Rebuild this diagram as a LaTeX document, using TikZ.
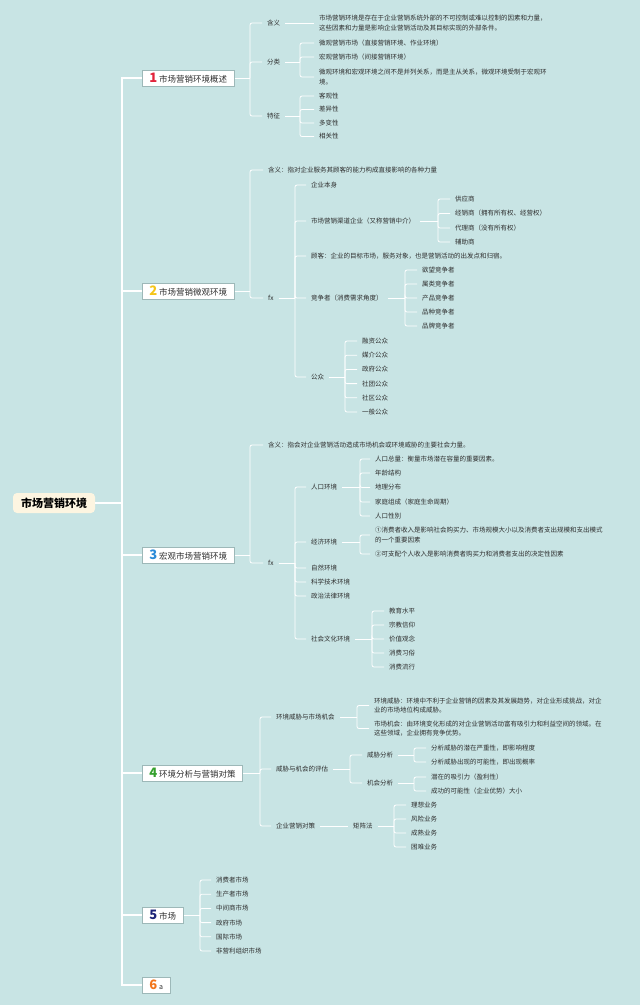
\documentclass[tikz,border=0pt]{standalone}
\usepackage{fontspec}
\setmainfont{Noto Sans CJK SC}
\usepackage{xcolor}
\usepackage{tikz}
\usetikzlibrary{positioning}
\definecolor{bgteal}{HTML}{C8E4E4}
\definecolor{rootcream}{HTML}{FDF5E1}
\definecolor{boxgray}{HTML}{9DB8B8}
\definecolor{textdark}{HTML}{2E2E2E}
\definecolor{numred}{HTML}{E2233B}
\definecolor{numyellow}{HTML}{F5C518}
\definecolor{numblue}{HTML}{2B8BD8}
\definecolor{numgreen}{HTML}{35A02E}
\definecolor{numnavy}{HTML}{1C2478}
\definecolor{numorange}{HTML}{F2761C}
\tikzstyle{topic} = [
    rectangle,
    rounded corners=4pt,
    minimum height=20pt,
    inner xsep=8pt,
    fill=rootcream,
    text=black,
    font=\fontsize{11}{13}\selectfont\bfseries
]
\tikzstyle{chapter} = [
    rectangle,
    anchor=west,
    minimum height=16pt,
    inner xsep=7pt,
    inner ysep=1pt,
    fill=white,
    draw=boxgray,
    line width=0.6pt,
    text=textdark,
    font=\fontsize{8.5}{10}\selectfont
]
\tikzstyle{leaf} = [
    anchor=west,
    inner xsep=5pt,
    inner ysep=1pt,
    align=left,
    text=textdark,
    font=\fontsize{6.5}{9.5}\selectfont
]
\tikzstyle{trunk} = [
    draw=white,
    line width=1.2pt
]
\tikzstyle{link} = [
    draw=white,
    line width=0.8pt,
    rounded corners=2pt
]
\newcommand{\chapnum}[2]{{\color{#1}\fontsize{13}{13}\selectfont\bfseries #2}\hspace{2pt}}

\begin{document}
\begin{tikzpicture}[x=1pt,y=-1pt]

% Background
\fill [bgteal] (0,0) rectangle (640,1005);
\useasboundingbox (0,0) rectangle (640,1005);

% Nodes
\node (root) [topic] at (54,503) {市场营销环境};
\coordinate (hub) at (122,503);

\node (m1) [chapter] at (142,78) {\chapnum{numred}{1}市场营销环境概述};
\node (m2) [chapter] at (142,291) {\chapnum{numyellow}{2}市场营销微观环境};
\node (m3) [chapter] at (142,555) {\chapnum{numblue}{3}宏观市场营销环境};
\node (m4) [chapter] at (142,773) {\chapnum{numgreen}{4}环境分析与营销对策};
\node (m5) [chapter] at (142,915) {\chapnum{numnavy}{5}市场};
\node (m6) [chapter] at (142,985) {\chapnum{numorange}{6}{\fontsize{7}{8}\selectfont a}};

% 1
\coordinate (k1) at (250,78);
\node (m1a) [leaf] at (262,23) {含义};
\node (m1b) [leaf] at (262,62) {分类};
\node (m1c) [leaf] at (262,116) {特征};
\node (m1a1) [leaf] at (314,23) {市场营销环境是存在于企业营销系统外部的不可控制或难以控制的因素和力量，\\这些因素和力量是影响企业营销活动及其目标实现的外部条件。};
\coordinate (k1b) at (300,62);
\node (m1b1) [leaf] at (314,43) {微观营销市场（直接营销环境、作业环境）};
\node (m1b2) [leaf] at (314,57) {宏观营销市场（间接营销环境）};
\node (m1b3) [leaf] at (314,77) {微观环境和宏观环境之间不是并列关系，而是主从关系，微观环境受制于宏观环\\境。};
\coordinate (k1c) at (300,116);
\node (m1c1) [leaf] at (314,96) {客观性};
\node (m1c2) [leaf] at (314,109.5) {差异性};
\node (m1c3) [leaf] at (314,123) {多变性};
\node (m1c4) [leaf] at (314,136.5) {相关性};

% 2
\coordinate (k2) at (250,291);
\node (m2a) [leaf] at (263,170) {含义：指对企业服务其顾客的能力构成直接影响的各种力量};
\node (m2b) [leaf] at (263,298) {fx};
\coordinate (k2b) at (295,298);
\node (m2b1) [leaf] at (306,185) {企业本身};
\node (m2b2) [leaf] at (306,221) {市场营销渠道企业（又称营销中介）};
\node (m2b3) [leaf] at (306,256) {顾客：企业的目标市场，服务对象，也是营销活动的出发点和归宿。};
\node (m2b4) [leaf] at (306,298) {竞争者（消费需求角度）};
\node (m2b5) [leaf] at (306,377) {公众};
\coordinate (k2b2) at (438,221);
\node (m2b21) [leaf] at (450,199) {供应商};
\node (m2b22) [leaf] at (450,213.5) {经销商（拥有所有权、经营权）};
\node (m2b23) [leaf] at (450,228) {代理商（没有所有权）};
\node (m2b24) [leaf] at (450,242) {辅助商};
\coordinate (k2b4) at (405,298);
\node (m2b41) [leaf] at (417,270) {欲望竞争者};
\node (m2b42) [leaf] at (417,284) {属类竞争者};
\node (m2b43) [leaf] at (417,298) {产品竞争者};
\node (m2b44) [leaf] at (417,312) {品种竞争者};
\node (m2b45) [leaf] at (417,326) {品牌竞争者};
\coordinate (k2b5) at (345,377);
\node (m2b51) [leaf] at (357,341) {融资公众};
\node (m2b52) [leaf] at (357,355.2) {媒介公众};
\node (m2b53) [leaf] at (357,369.4) {政府公众};
\node (m2b54) [leaf] at (357,383.6) {社团公众};
\node (m2b55) [leaf] at (357,397.8) {社区公众};
\node (m2b56) [leaf] at (357,412) {一般公众};

% 3
\coordinate (k3) at (250,555);
\node (m3a) [leaf] at (263,445) {含义：指会对企业营销活动造成市场机会或环境威胁的主要社会力量。};
\node (m3b) [leaf] at (263,563) {fx};
\coordinate (k3b) at (295,563);
\node (m3b1) [leaf] at (306,487) {人口环境};
\node (m3b2) [leaf] at (306,542) {经济环境};
\node (m3b3) [leaf] at (306,568) {自然环境};
\node (m3b4) [leaf] at (306,582) {科学技术环境};
\node (m3b5) [leaf] at (306,596) {政治法律环境};
\node (m3b6) [leaf] at (306,639) {社会文化环境};
\coordinate (k3b1) at (360,487);
\node (m3b11) [leaf] at (370,459) {人口总量：衡量市场潜在容量的重要因素。};
\node (m3b12) [leaf] at (370,473) {年龄结构};
\node (m3b13) [leaf] at (370,487.5) {地理分布};
\node (m3b14) [leaf] at (370,502) {家庭组成（家庭生命周期）};
\node (m3b15) [leaf] at (370,516) {人口性别};
\coordinate (k3b2) at (360,542);
\node (m3b21) [leaf] at (370,535) {①消费者收入是影响社会购买力、市场规模大小以及消费者支出规模和支出模式\\的一个重要因素};
\node (m3b22) [leaf] at (370,554) {②可支配个人收入是影响消费者购买力和消费者支出的决定性因素};
\coordinate (k3b6) at (372,639);
\node (m3b61) [leaf] at (384,611) {教育水平};
\node (m3b62) [leaf] at (384,625) {宗教信仰};
\node (m3b63) [leaf] at (384,639) {价值观念};
\node (m3b64) [leaf] at (384,653) {消费习俗};
\node (m3b65) [leaf] at (384,667) {消费流行};

% 4
\coordinate (k4) at (260,773);
\node (m4a) [leaf] at (271,717) {环境威胁与市场机会};
\node (m4b) [leaf] at (271,769) {威胁与机会的评估};
\node (m4c) [leaf] at (271,826) {企业营销对策};
\coordinate (k4a) at (357,717);
\node (m4a1) [leaf] at (369,705.5) {环境威胁：环境中不利于企业营销的因素及其发展趋势，对企业形成挑战，对企\\业的市场地位构成威胁。};
\node (m4a2) [leaf] at (369,728.5) {市场机会：由环境变化形成的对企业营销活动富有吸引力和利益空间的领域。在\\这些领域，企业拥有竞争优势。};
\coordinate (k4b) at (350,769);
\node (m4b1) [leaf] at (362,755) {威胁分析};
\node (m4b2) [leaf] at (362,783) {机会分析};
\coordinate (k4b1) at (414,755);
\node (m4b11) [leaf] at (426,748) {分析威胁的潜在严重性，即影响程度};
\node (m4b12) [leaf] at (426,762) {分析威胁出现的可能性，即出现概率};
\coordinate (k4b2) at (414,783);
\node (m4b21) [leaf] at (426,777) {潜在的吸引力（盈利性）};
\node (m4b22) [leaf] at (426,791) {成功的可能性（企业优势）大小};
\node (m4c1) [leaf] at (348,826) {矩阵法};
\coordinate (k4c1) at (394,826);
\node (m4c11) [leaf] at (406,805) {理想业务};
\node (m4c12) [leaf] at (406,819) {风险业务};
\node (m4c13) [leaf] at (406,833) {成熟业务};
\node (m4c14) [leaf] at (406,847) {困难业务};

% 5
\coordinate (k5) at (200,915);
\node (m51) [leaf] at (211,880) {消费者市场};
\node (m52) [leaf] at (211,894.2) {生产者市场};
\node (m53) [leaf] at (211,908.4) {中间商市场};
\node (m54) [leaf] at (211,922.6) {政府市场};
\node (m55) [leaf] at (211,936.8) {国际市场};
\node (m56) [leaf] at (211,951) {非营利组织市场};

% Lines
\draw [trunk] (root.east) -- (hub);
\draw [trunk] (hub) |- (m1.west);
\draw [trunk] (hub) |- (m2.west);
\draw [trunk] (hub) |- (m3.west);
\draw [trunk] (hub) |- (m4.west);
\draw [trunk] (hub) |- (m5.west);
\draw [trunk] (hub) |- (m6.west);

\draw [link] (m1.east) -- (k1);
\draw [link] (k1) |- (m1a.west);
\draw [link] (k1) |- (m1b.west);
\draw [link] (k1) |- (m1c.west);
\draw [link] (m1a.east) -- (m1a1.west);
\draw [link] (m1b.east) -- (k1b);
\draw [link] (k1b) |- (m1b1.west);
\draw [link] (k1b) |- (m1b2.west);
\draw [link] (k1b) |- (m1b3.west);
\draw [link] (m1c.east) -- (k1c);
\draw [link] (k1c) |- (m1c1.west);
\draw [link] (k1c) |- (m1c2.west);
\draw [link] (k1c) |- (m1c3.west);
\draw [link] (k1c) |- (m1c4.west);

\draw [link] (m2.east) -- (k2);
\draw [link] (k2) |- (m2a.west);
\draw [link] (k2) |- (m2b.west);
\draw [link] (m2b.east) -- (k2b);
\draw [link] (k2b) |- (m2b1.west);
\draw [link] (k2b) |- (m2b2.west);
\draw [link] (k2b) |- (m2b3.west);
\draw [link] (k2b) |- (m2b4.west);
\draw [link] (k2b) |- (m2b5.west);
\draw [link] (m2b2.east) -- (k2b2);
\draw [link] (k2b2) |- (m2b21.west);
\draw [link] (k2b2) |- (m2b22.west);
\draw [link] (k2b2) |- (m2b23.west);
\draw [link] (k2b2) |- (m2b24.west);
\draw [link] (m2b4.east) -- (k2b4);
\draw [link] (k2b4) |- (m2b41.west);
\draw [link] (k2b4) |- (m2b42.west);
\draw [link] (k2b4) |- (m2b43.west);
\draw [link] (k2b4) |- (m2b44.west);
\draw [link] (k2b4) |- (m2b45.west);
\draw [link] (m2b5.east) -- (k2b5);
\draw [link] (k2b5) |- (m2b51.west);
\draw [link] (k2b5) |- (m2b52.west);
\draw [link] (k2b5) |- (m2b53.west);
\draw [link] (k2b5) |- (m2b54.west);
\draw [link] (k2b5) |- (m2b55.west);
\draw [link] (k2b5) |- (m2b56.west);

\draw [link] (m3.east) -- (k3);
\draw [link] (k3) |- (m3a.west);
\draw [link] (k3) |- (m3b.west);
\draw [link] (m3b.east) -- (k3b);
\draw [link] (k3b) |- (m3b1.west);
\draw [link] (k3b) |- (m3b2.west);
\draw [link] (k3b) |- (m3b3.west);
\draw [link] (k3b) |- (m3b4.west);
\draw [link] (k3b) |- (m3b5.west);
\draw [link] (k3b) |- (m3b6.west);
\draw [link] (m3b1.east) -- (k3b1);
\draw [link] (k3b1) |- (m3b11.west);
\draw [link] (k3b1) |- (m3b12.west);
\draw [link] (k3b1) |- (m3b13.west);
\draw [link] (k3b1) |- (m3b14.west);
\draw [link] (k3b1) |- (m3b15.west);
\draw [link] (m3b2.east) -- (k3b2);
\draw [link] (k3b2) |- (m3b21.west);
\draw [link] (k3b2) |- (m3b22.west);
\draw [link] (m3b6.east) -- (k3b6);
\draw [link] (k3b6) |- (m3b61.west);
\draw [link] (k3b6) |- (m3b62.west);
\draw [link] (k3b6) |- (m3b63.west);
\draw [link] (k3b6) |- (m3b64.west);
\draw [link] (k3b6) |- (m3b65.west);

\draw [link] (m4.east) -- (k4);
\draw [link] (k4) |- (m4a.west);
\draw [link] (k4) |- (m4b.west);
\draw [link] (k4) |- (m4c.west);
\draw [link] (m4a.east) -- (k4a);
\draw [link] (k4a) |- (m4a1.west);
\draw [link] (k4a) |- (m4a2.west);
\draw [link] (m4b.east) -- (k4b);
\draw [link] (k4b) |- (m4b1.west);
\draw [link] (k4b) |- (m4b2.west);
\draw [link] (m4b1.east) -- (k4b1);
\draw [link] (k4b1) |- (m4b11.west);
\draw [link] (k4b1) |- (m4b12.west);
\draw [link] (m4b2.east) -- (k4b2);
\draw [link] (k4b2) |- (m4b21.west);
\draw [link] (k4b2) |- (m4b22.west);
\draw [link] (m4c.east) -- (m4c1.west);
\draw [link] (m4c1.east) -- (k4c1);
\draw [link] (k4c1) |- (m4c11.west);
\draw [link] (k4c1) |- (m4c12.west);
\draw [link] (k4c1) |- (m4c13.west);
\draw [link] (k4c1) |- (m4c14.west);

\draw [link] (m5.east) -- (k5);
\draw [link] (k5) |- (m51.west);
\draw [link] (k5) |- (m52.west);
\draw [link] (k5) |- (m53.west);
\draw [link] (k5) |- (m54.west);
\draw [link] (k5) |- (m55.west);
\draw [link] (k5) |- (m56.west);

\end{tikzpicture}
\end{document}
